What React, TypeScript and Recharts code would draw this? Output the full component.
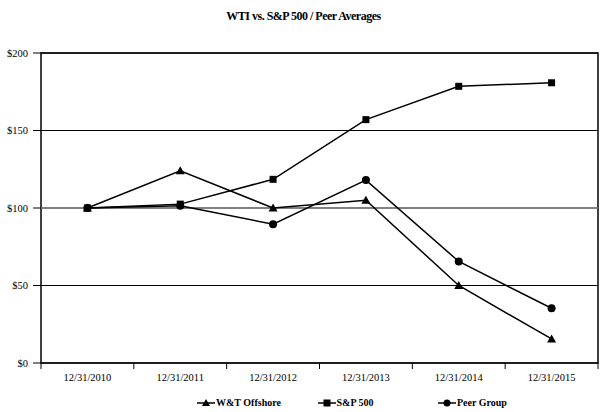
import React from 'react';
import { LineChart, Line, XAxis, YAxis, CartesianGrid, Legend, ReferenceLine, ReferenceArea } from 'recharts';

const categories = ['12/31/2010', '12/31/2011', '12/31/2012', '12/31/2013', '12/31/2014', '12/31/2015'];
const wtiValues = [100, 124, 100, 105, 50, 15.5];
const spValues = [100, 102.5, 118.5, 157, 178.5, 180.8];
const peerValues = [100, 101.5, 89.5, 118, 65.5, 35.3];
const yTicks = [0, 50, 100, 150, 200];
const seriesNames = ['W&T Offshore', 'S&P 500', 'Peer Group'];
const titleText = 'WTI vs. S&P 500 / Peer Averages';

const data = categories.map((c, i) => ({
  cat: c,
  wti: wtiValues[i],
  sp: spValues[i],
  peer: peerValues[i],
}));

const FONT = '"Liberation Serif", "Times New Roman", serif';

const Triangle = (props: any) => {
  const { cx, cy } = props;
  if (cx == null || cy == null) return <g />;
  return <polygon points={`${cx},${cy - 4.5} ${cx + 4.5},${cy + 3.5} ${cx - 4.5},${cy + 3.5}`} fill="#000" />;
};
const Square = (props: any) => {
  const { cx, cy } = props;
  if (cx == null || cy == null) return <g />;
  return <rect x={cx - 3.5} y={cy - 3.5} width={7} height={7} fill="#000" />;
};
const Circle = (props: any) => {
  const { cx, cy } = props;
  if (cx == null || cy == null) return <g />;
  return <circle cx={cx} cy={cy} r={4} fill="#000" />;
};

const XTick = (props: any) => {
  const { x, y, payload } = props;
  const half = payload && payload.offset ? payload.offset : 557 / 12;
  const left = x - half;
  const isLast = payload && payload.index === categories.length - 1;
  return (
    <g>
      <line x1={left} y1={y - 8} x2={left} y2={y - 2} stroke="#000" strokeWidth={1} />
      {isLast && <line x1={x + half} y1={y - 8} x2={x + half} y2={y - 2} stroke="#000" strokeWidth={1} />}
      <text x={x} y={y + 10} textAnchor="middle" fontFamily={FONT} fontSize={10.5} fill="#000">
        {payload.value}
      </text>
    </g>
  );
};

const LegendIcon = ({ kind }: { kind: number }) => (
  <svg width={18} height={10} style={{ display: 'block' }}>
    <line x1={0} y1={5} x2={18} y2={5} stroke="#000" strokeWidth={1.5} />
    {kind === 0 && <polygon points="9,1 13,8 5,8" fill="#000" />}
    {kind === 1 && <rect x={5.5} y={1.5} width={7} height={7} fill="#000" />}
    {kind === 2 && <circle cx={9} cy={5} r={3.5} fill="#000" />}
  </svg>
);

const LegendContent = () => (
  <div style={{ position: 'relative', width: 607, height: 20 }}>
    {seriesNames.map((n, i) => (
      <div
        key={n}
        style={{
          position: 'absolute',
          left: 197 + i * 120.5,
          top: 5,
          display: 'flex',
          alignItems: 'center',
          fontFamily: FONT,
          fontWeight: 'bold',
          fontSize: 10,
          color: '#000',
          whiteSpace: 'nowrap',
        }}
      >
        <LegendIcon kind={i} />
        <span style={{ marginLeft: 1 }}>{n}</span>
      </div>
    ))}
  </div>
);

export default function App() {
  return (
    <div style={{ position: 'absolute', left: 0, top: 0, width: 607, height: 412, background: '#fff' }}>
      <div
        style={{
          position: 'absolute',
          left: 0,
          top: 9,
          width: 607,
          textAlign: 'center',
          fontFamily: FONT,
          fontWeight: 'bold',
          fontSize: 12,
          letterSpacing: -0.5,
          color: '#000',
        }}
      >
        {titleText}
      </div>
      <LineChart width={607} height={412} data={data} margin={{ top: 53, right: 9, bottom: 0, left: 0 }}>
        <CartesianGrid horizontal vertical={false} stroke="#000" strokeWidth={1} />
        <ReferenceLine y={100} stroke="#808080" strokeWidth={1.5} />
        <XAxis dataKey="cat" scale="band" height={29} axisLine={false} tickLine={false} tick={<XTick />} interval={0} />
        <YAxis
          width={41}
          domain={[0, 200]}
          ticks={yTicks}
          interval={0}
          axisLine={false}
          tickSize={8}
          tickMargin={5}
          tickLine={{ stroke: '#000' }}
          tickFormatter={(v: number) => `$${v}`}
          tick={{ fontFamily: FONT, fontSize: 10.5, fill: '#000' }}
        />
        <ReferenceArea y1={0} y2={200} fill="none" stroke="#000" strokeWidth={1.5} ifOverflow="visible" />
        <Legend verticalAlign="bottom" content={<LegendContent />} />
        <Line dataKey="wti" name={seriesNames[0]} stroke="#000" strokeWidth={1.5} dot={<Triangle />} activeDot={false} isAnimationActive={false} />
        <Line dataKey="sp" name={seriesNames[1]} stroke="#000" strokeWidth={1.5} dot={<Square />} activeDot={false} isAnimationActive={false} />
        <Line dataKey="peer" name={seriesNames[2]} stroke="#000" strokeWidth={1.5} dot={<Circle />} activeDot={false} isAnimationActive={false} />
      </LineChart>
    </div>
  );
}
